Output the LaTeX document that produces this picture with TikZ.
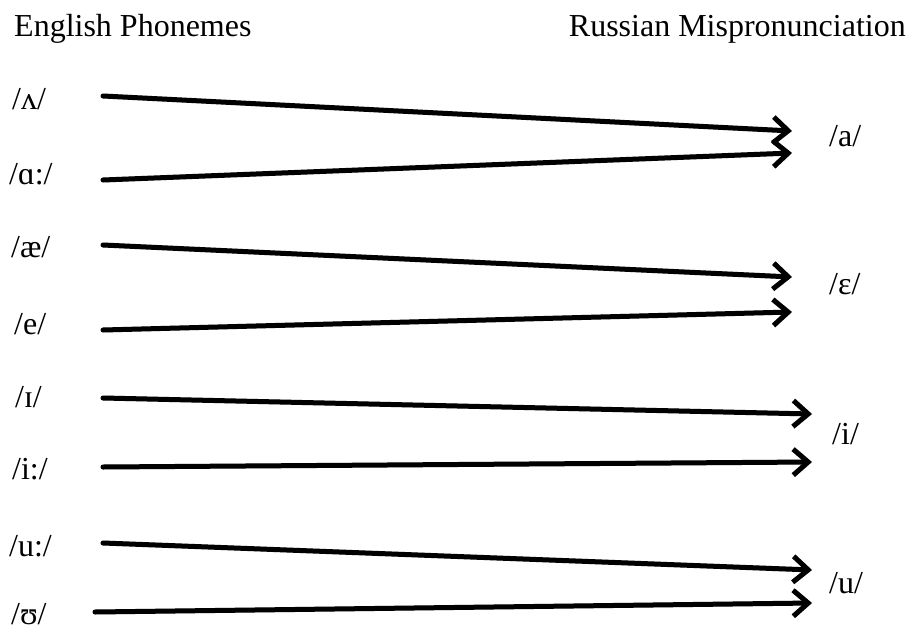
\documentclass[tikz,border=0pt]{standalone}
\usepackage{fontspec}
\setmainfont{Liberation Serif}
\usetikzlibrary{arrows.meta}
\begin{document}
\begin{tikzpicture}[x=1pt,y=-1pt,
  lbl/.style={font=\fontsize{32}{36}\selectfont, inner sep=0pt, anchor=base west},
  maparrow/.style={line width=5pt, line cap=round, line join=round,
    -{Straight Barb[length=15pt,width=26pt,line width=5pt]}},
  shadowarrow/.style={maparrow, draw=black!35, opacity=0.35, shift={(1.5,2.5)}}]
\useasboundingbox (0,0) rectangle (916,632);
% column headings
\node[lbl] (hl) at (14,36) {English Phonemes};
\node[lbl, anchor=base east] (hr) at (906,36) {Russian Mispronunciation};
% English vowels
\node[lbl] (e1) at (12,109) {/ʌ/};
\node[lbl] (e2) at (9,184) {/ɑ:/};
\node[lbl] (e3) at (11,257) {/æ/};
\node[lbl] (e4) at (14,334) {/e/};
\node[lbl] (e5) at (15,407) {/ɪ/};
\node[lbl] (e6) at (12,479) {/i:/};
\node[lbl] (e7) at (9,556) {/u:/};
\node[lbl] (e8) at (11,624) {/ʊ/};
% Russian realisations
\node[lbl] (r1) at (829,146) {/a/};
\node[lbl] (r2) at (829,294) {/ɛ/};
\node[lbl] (r3) at (832,444) {/i/};
\node[lbl] (r4) at (829,593) {/u/};
% arrow end points
\coordinate (s1) at (103,96);  \coordinate (t1) at (792,131);
\coordinate (s2) at (103,180); \coordinate (t2) at (792,153);
\coordinate (s3) at (103,245); \coordinate (t3) at (792,277);
\coordinate (s4) at (103,330); \coordinate (t4) at (792,312);
\coordinate (s5) at (103,398); \coordinate (t5) at (812,414);
\coordinate (s6) at (103,467); \coordinate (t6) at (812,462);
\coordinate (s7) at (103,543); \coordinate (t7) at (812,570);
\coordinate (s8) at (95,612);  \coordinate (t8) at (812,603);
% soft shadows
\foreach \i in {1,...,8} \draw[shadowarrow] (s\i) -- (t\i);
% arrows
\foreach \i in {1,...,8} \draw[maparrow] (s\i) -- (t\i);
\end{tikzpicture}
\end{document}
